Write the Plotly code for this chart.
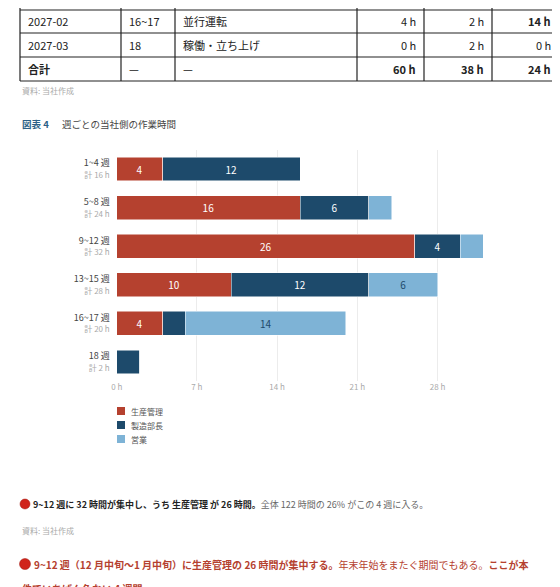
import plotly.graph_objects as go

W, H = 560, 587
weeks = ["1~4 週", "5~8 週", "9~12 週", "13~15 週", "16~17 週", "18 週"]
seisan = [4, 16, 26, 10, 4, 0]
seizo = [12, 6, 4, 12, 2, 2]
eigyo = [0, 2, 2, 6, 14, 0]
series_names = ["生産管理", "製造部長", "営業"]
colors = ["#b5412f", "#1d4a6b", "#7eb3d6"]
text_colors = ["white", "white", "#1d4a6b"]
xticks = [0, 7, 14, 21, 28]

table_rows = [
    ["2027-02", "16~17", "並行運転", "4 h", "2 h", "14 h"],
    ["2027-03", "18", "稼働・立ち上げ", "0 h", "2 h", "0 h"],
    ["合計", "—", "—", "60 h", "38 h", "24 h"],
]

FONT = "Noto Sans CJK JP"
def px(x): return x / W
def py(y): return 1 - y / H

totals = [a + b + c for a, b, c in zip(seisan, seizo, eigyo)]
ticktext = [f"{w}<br><span style='font-size:8px;color:#aaa'>計 {t} h</span>" for w, t in zip(weeks, totals)]

fig = go.Figure()
for name, vals, col, tc in zip(series_names, [seisan, seizo, eigyo], colors, text_colors):
    fig.add_trace(go.Bar(
        y=weeks, x=vals, name=name, orientation="h", marker=dict(color=col, line=dict(width=0.5, color="white")),
        text=[str(v) if v >= 4 else "" for v in vals], textposition="inside", insidetextanchor="middle",
        textfont=dict(color=tc, size=10, family=FONT), showlegend=False,
    ))

x0, pxh = 108.7, 11.46
xmax = 32.5
fig.update_layout(
    width=W, height=H, margin=dict(l=0, r=0, t=0, b=0), barmode="stack", bargap=0.38,
    paper_bgcolor="white", plot_bgcolor="white", font=dict(family=FONT, size=10, color="#333"),
    xaxis=dict(domain=[px(x0), px(x0 + xmax * pxh)], range=[0, xmax], tickvals=xticks, automargin=False,
               ticktext=[f"{t} h" for t in xticks], showgrid=True, gridcolor="#ececec", zeroline=False,
               tickfont=dict(size=8, color="#aaa"), ticks="", fixedrange=True),
    yaxis=dict(domain=[py(373.3), py(141.7)], categoryorder="array", categoryarray=weeks[::-1], automargin=False,
               tickvals=weeks, ticktext=ticktext, tickfont=dict(size=9, color="#444"), ticks="",
               showgrid=False, ticklabelstandoff=6),
)

shapes, ann = [], []
cols = [12, 113, 167, 349, 416, 484, 551]
hlines = [2, 25, 49, 73]
for y in hlines:
    shapes.append(dict(type="line", xref="paper", yref="paper", x0=px(12), x1=px(551), y0=py(y), y1=py(y),
                       line=dict(color="#222", width=1.2)))
for x in cols:
    shapes.append(dict(type="line", xref="paper", yref="paper", x0=px(x), x1=px(x), y0=py(0), y1=py(73),
                       line=dict(color="#222", width=1.2)))
for r, row in enumerate(table_rows):
    yc = (hlines[r] + hlines[r + 1]) / 2
    for c, cell in enumerate(row):
        bold = (r == 2 and c in (0, 3, 4, 5)) or (r == 0 and c == 5)
        txt = f"<b>{cell}</b>" if bold else cell
        if c < 3:
            ann.append(dict(x=px(cols[c] + 6), y=py(yc), text=txt, xanchor="left", showarrow=False))
        else:
            ann.append(dict(x=px(cols[c + 1] - 6), y=py(yc), text=txt, xanchor="right", showarrow=False))
for a in ann:
    a.update(xref="paper", yref="paper", yanchor="middle", font=dict(size=11, color="#222"))

def add(x, y, text, size=9, color="#333", anchor="left"):
    ann.append(dict(xref="paper", yref="paper", x=px(x), y=py(y), text=text, xanchor=anchor, yanchor="middle",
                    showarrow=False, font=dict(size=size, color=color, family=FONT)))

add(12, 82, "資料: 当社作成", 8, "#aaa")
add(12, 116, "<b>図表 4</b>", 9.5, "#2b5f86")
add(52, 116, "週ごとの当社側の作業時間", 9.5, "#444")

for i, (name, col) in enumerate(zip(series_names, colors)):
    y = 403 + 14 * i
    shapes.append(dict(type="rect", xref="paper", yref="paper", x0=px(109), x1=px(117), y0=py(y - 4), y1=py(y + 4),
                       fillcolor=col, line=dict(width=0)))
    add(121, y, name, 8, "#555")

def dot(x, y, r=5):
    shapes.append(dict(type="circle", xref="paper", yref="paper", x0=px(x - r), x1=px(x + r), y0=py(y + r), y1=py(y - r),
                       fillcolor="#d0241b", line=dict(color="#a01810", width=0.5)))

dot(17, 496)
add(23, 496, "<b>9~12 週に 32 時間が集中し、うち 生産管理 が 26 時間。</b><span style='color:#666'>全体 122 時間の 26% がこの 4 週に入る。</span>", 9, "#222")
add(12, 522, "資料: 当社作成", 8, "#aaa")
dot(17, 556, 5.5)
add(24, 556, "<b>9~12 週（12 月中旬～1 月中旬）に生産管理の 26 時間が集中する。</b>年末年始をまたぐ期間でもある。<b>ここが本</b>", 10, "#b5412f")
add(12, 580, "<b>件でいちばん危ない 4 週間。</b>", 10, "#b5412f")

fig.update_layout(shapes=shapes, annotations=ann)
fig.write_html("out.html")
